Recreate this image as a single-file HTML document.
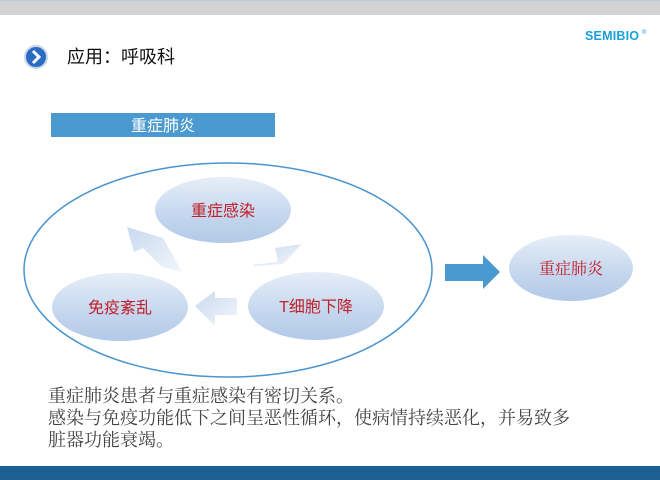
<!DOCTYPE html>
<html><head><meta charset="utf-8"><style>
html,body{margin:0;padding:0;width:660px;height:480px;overflow:hidden;background:#fff}
svg{display:block}
</style></head><body>
<svg width="660" height="480" viewBox="0 0 660 480" xmlns="http://www.w3.org/2000/svg">
<defs>
<linearGradient id="eg" x1="0" y1="0" x2="0" y2="1">
<stop offset="0" stop-color="#e6eef8"/><stop offset="0.6" stop-color="#c4d6ee"/><stop offset="1" stop-color="#b2c9e8"/>
</linearGradient>
<linearGradient id="ag" x1="0" y1="0" x2="1" y2="1">
<stop offset="0" stop-color="#c8d9ef"/><stop offset="1" stop-color="#f2f6fb"/>
</linearGradient>
</defs>
<rect x="0" y="0" width="660" height="15" fill="#d3d3d3"/>
<rect x="0" y="0" width="660" height="1" fill="#b8cde0"/>
<circle cx="36" cy="57" r="11" fill="#2a6cc4" stroke="#c9d6e6" stroke-width="2"/>
<path d="M33 51 L39 57 L33 63" fill="none" stroke="#fff" stroke-width="3"/>
<text x="67" y="63" font-family="Liberation Sans,'Noto Sans CJK SC',sans-serif" font-size="18" fill="#111">应用：呼吸科</text>
<text x="585" y="40" font-family="Liberation Sans,sans-serif" font-size="12.5" font-weight="bold" fill="#1aa0d8" textLength="54">SEMIBIO</text>
<text x="642" y="34" font-family="Liberation Sans,sans-serif" font-size="6" fill="#1aa0d8">®</text>
<rect x="51" y="113" width="224" height="24" fill="#4a9ad0"/>
<text x="163" y="131" text-anchor="middle" font-family="Liberation Sans,'Noto Sans CJK SC',sans-serif" font-size="16" fill="#fff">重症肺炎</text>
<ellipse cx="228" cy="270" rx="204" ry="107" fill="none" stroke="#4a94cf" stroke-width="1.5"/>
<ellipse cx="223" cy="210" rx="68" ry="33" fill="url(#eg)"/>
<ellipse cx="120" cy="307" rx="68" ry="34" fill="url(#eg)"/>
<ellipse cx="316" cy="306" rx="68" ry="34" fill="url(#eg)"/>
<g font-family="Liberation Sans,'Noto Sans CJK SC',sans-serif" font-size="16" fill="#c0202a" text-anchor="middle">
<text x="223" y="216">重症感染</text>
<text x="120" y="313">免疫紊乱</text>
<text x="316" y="312">T细胞下降</text>
</g>
<polygon points="237,298 237,315 215,315 215,326 195,306 215,291 215,298" fill="url(#ag)"/>
<polygon points="127,227 163,238 182,272 162,267 143,248 134,252" fill="url(#ag)"/>
<polygon points="252,265 278,262 275,248 302,244 283,264 255,266" fill="url(#ag)"/>
<polygon points="445,264 483,264 483,255 500,272 483,289 483,281 445,281" fill="#4a9ad0"/>
<ellipse cx="571" cy="268" rx="62" ry="33" fill="url(#eg)"/>
<text x="571" y="274" text-anchor="middle" font-family="Liberation Serif,'Noto Serif CJK SC',serif" font-size="16" fill="#c0202a">重症肺炎</text>
<g font-family="Liberation Serif,'Noto Serif CJK SC',serif" font-size="18" fill="#444">
<text x="48" y="402">重症肺炎患者与重症感染有密切关系。</text>
<text x="48" y="424">感染与免疫功能低下之间呈恶性循环，使病情持续恶化，并易致多</text>
<text x="48" y="446">脏器功能衰竭。</text>
</g>
<rect x="0" y="466" width="660" height="14" fill="#1c5f95"/>
</svg>
</body></html>
